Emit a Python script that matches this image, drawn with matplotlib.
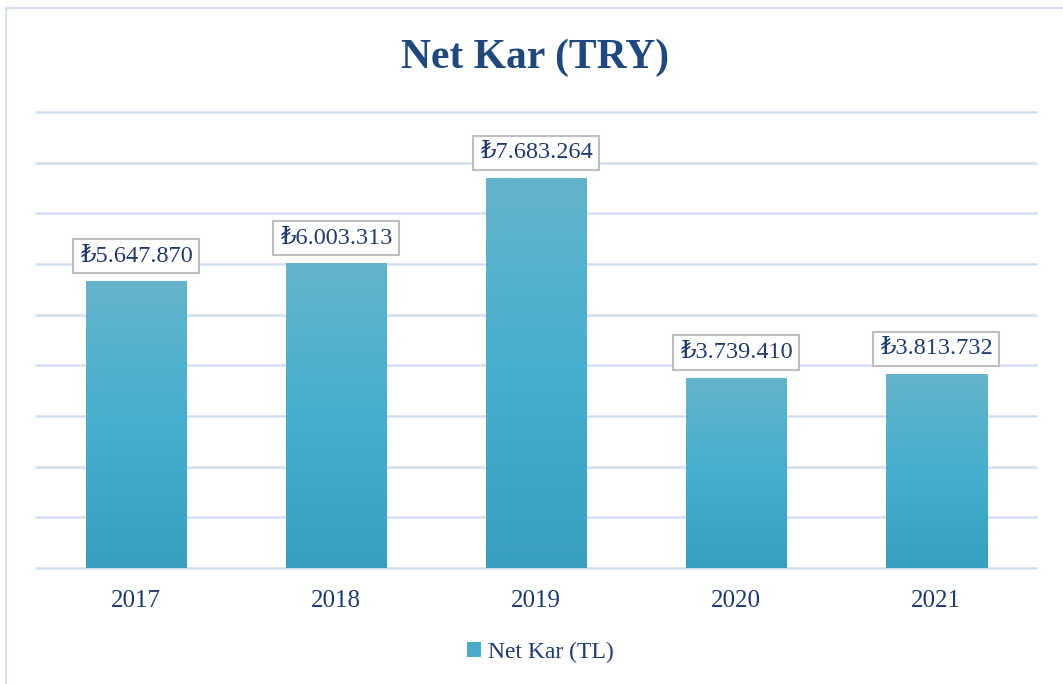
import numpy as np
import matplotlib
matplotlib.use("Agg")
import matplotlib.pyplot as plt
from matplotlib.colors import LinearSegmentedColormap
from matplotlib.patches import Rectangle, Patch

years = ["2017", "2018", "2019", "2020", "2021"]
net_kar = [5647870, 6003313, 7683264, 3739410, 3813732]
y_ticks = [0, 1000000, 2000000, 3000000, 4000000, 5000000,
           6000000, 7000000, 8000000, 9000000]

plt.rcParams["font.family"] = ["Liberation Serif", "DejaVu Serif"]

NAVY = "#1f3b6e"
TITLE = "#1f497d"
GRID = "#d3e0f1"

fig = plt.figure(figsize=(10.63, 6.84), dpi=100)
ax = fig.add_axes([36 / 1063, 1 - 568 / 684, 1000 / 1063, 456 / 684])

# outer chart border
fig.patches.append(Rectangle((6 / 1063, -0.1), 1.2, 1 - 8 / 684 + 0.1,
                             transform=fig.transFigure, fill=False,
                             edgecolor="#d3e0f1", lw=1.5))

x = np.arange(len(years))
bars = ax.bar(x, net_kar, width=0.505, color="none", zorder=3)

grad = LinearSegmentedColormap.from_list(
    "g", ["#389fbe", "#45afce", "#64b4cb"])
img = np.linspace(0, 1, 256).reshape(-1, 1)
for b in bars:
    x0, y0 = b.get_x(), b.get_y()
    ax.imshow(img, cmap=grad, origin="lower", aspect="auto",
              extent=[x0, x0 + b.get_width(), y0, y0 + b.get_height()],
              zorder=3)

for xi, v in zip(x, net_kar):
    label = "₺" + f"{v:,}".replace(",", ".")
    ax.annotate(label, (xi, v), xytext=(0, 11), textcoords="offset points",
                ha="center", va="bottom", fontsize=17.5, color=NAVY,
                bbox=dict(boxstyle="square,pad=0.28", fc="white",
                          ec="#bfbfbf", lw=1.5), zorder=5)

ax.set_xlim(-0.5, len(years) - 0.5)
ax.set_ylim(0, 9000000)
ax.set_yticks(y_ticks)
ax.set_yticklabels([])
ax.set_xticks(x)
ax.set_xticklabels(years, fontsize=18, color=NAVY)
ax.tick_params(axis="both", length=0)
ax.tick_params(axis="x", pad=16)
ax.grid(axis="y", color=GRID, lw=1.8, zorder=0)
for gl in ax.get_ygridlines():
    gl.set_clip_on(False)
ax.set_axisbelow(True)
for s in ax.spines.values():
    s.set_visible(False)

fig.text(535 / 1063, 1 - 58 / 684, "Net Kar (TRY)", ha="center",
         va="center", fontsize=30, fontweight="bold", color=TITLE)

fig.legend(handles=[Patch(facecolor="#48acc8", edgecolor="none")],
           labels=["Net Kar (TL)"], loc="center",
           bbox_to_anchor=(540 / 1063, 1 - 652 / 684), frameon=False,
           fontsize=17, labelcolor=NAVY, handlelength=0.6,
           handleheight=0.6, handletextpad=0.3)

fig.savefig("out.png", dpi=100)
